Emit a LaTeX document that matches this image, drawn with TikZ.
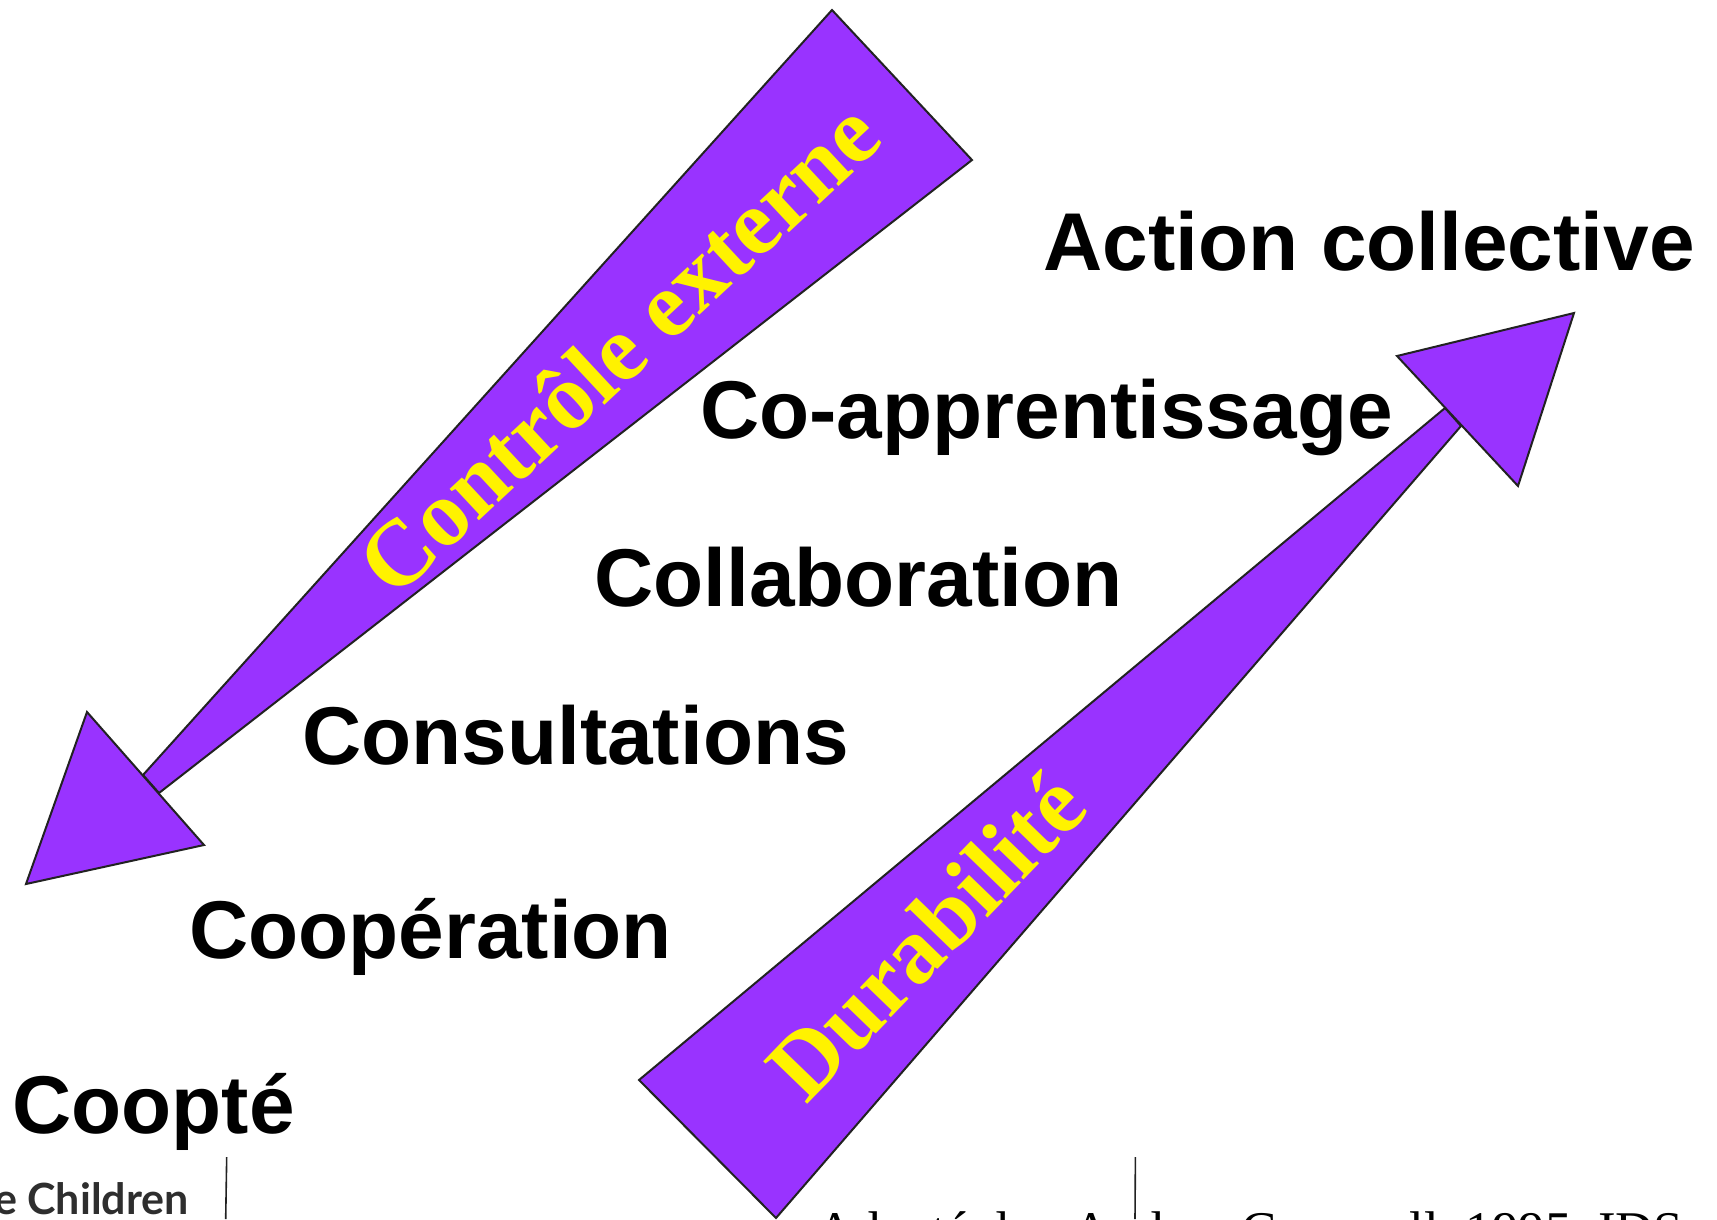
\documentclass[tikz,border=0pt]{standalone}
\usepackage{fontspec}
\setmainfont{Liberation Serif}
\newfontfamily\stagefont{Liberation Sans}
\newfontfamily\logofont{Lato}
\definecolor{wedgepurple}{HTML}{9933FF}
\definecolor{wedgeline}{HTML}{222222}
\definecolor{logogrey}{HTML}{2E2E2E}

\begin{document}
\begin{tikzpicture}[
   x=1pt, y=-1pt,
   wedge/.style={
       fill=wedgepurple,
       draw=wedgeline,
       line width=2pt,
       line join=miter
   },
   stage/.style={
       anchor=base west,
       inner sep=0pt,
       font=\stagefont\bfseries\fontsize{82}{90}\selectfont
   },
   along/.style={
       anchor=base west,
       inner sep=0pt,
       text=yellow,
       font=\bfseries\fontsize{93.5}{100}\selectfont,
       rotate=#1
   },
   source/.style={
       anchor=base west,
       inner sep=0pt,
       font=\fontsize{53}{60}\selectfont
   }
  ]
  \useasboundingbox (0,0) rectangle (1717,1219);

  % left arrow, pointing down
  \draw [wedge] (832,10) -- (972,160) -- (159,793) -- (143,775) -- cycle;
  \draw [wedge] (26,884) -- (87,712) -- (204,845) -- cycle;
  % right arrow, pointing up
  \draw [wedge] (639,1080) -- (1445,408) -- (1461,426) -- (776,1218) -- cycle;
  \draw [wedge] (1574,313) -- (1397,356) -- (1518,486) -- cycle;

  \node [along=43] (controle) at (394,601) {Contrôle externe};
  \node [along=46] (durabilite) at (806,1106) {Durabilité};

  \node [stage] (action) at (1043,270) {Action collective};
  \node [stage] (coapp) at (700,438) {Co-apprentissage};
  \node [stage] (collab) at (594,606) {Collaboration};
  \node [stage] (consult) at (302,764) {Consultations};
  \node [stage] (cooper) at (189,958) {Coopération};
  \node [stage] (coopte) at (12,1133) {Coopté};

  \node [source] (adapte) at (816,1248) {Adapté de\hspace{40pt}Andrea Cornwall, 1995, IDS};
  \node [anchor=base east, inner sep=0pt, text=logogrey,
         font=\logofont\bfseries\fontsize{43}{48}\selectfont] (logo) at (189,1214) {e Children};

  % footer rules
  \draw [line width=1.6pt, wedgeline] (226.7,1157) -- (225.7,1219);
  \draw [line width=1.6pt, wedgeline] (1135.4,1157) -- (1135,1219);
\end{tikzpicture}
\end{document}
